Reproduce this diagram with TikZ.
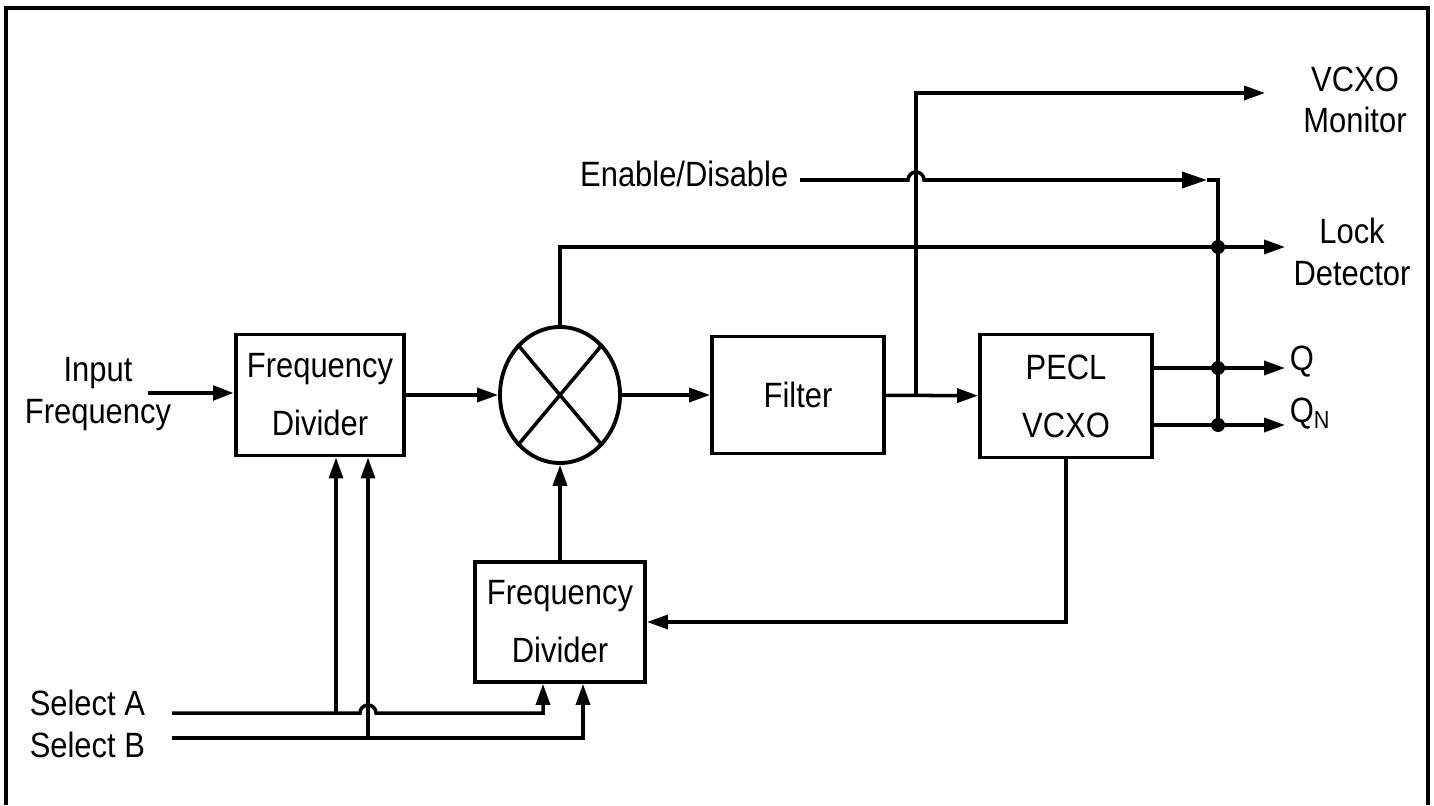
\documentclass[tikz,border=0pt]{standalone}
\usepackage{fontspec}
\setmainfont{Liberation Sans}[FakeStretch=0.88]
\usetikzlibrary{arrows.meta,positioning,calc,shapes.geometric}
\tikzset{
  blk/.style={draw,line width=1.1pt,minimum width=1.7cm,minimum height=1.2cm,align=center,inner sep=0pt,font=\fontsize{10}{16.5}\selectfont},
  lbl/.style={align=center,inner sep=0pt,font=\fontsize{10}{11.8}\selectfont},
  sig/.style={-{Triangle[length=2.1mm,width=1.4mm]}},
}

\begin{document}
\begin{tikzpicture}[x=0.1mm,y=-0.1mm,line width=1pt]
  \useasboundingbox (0,0) rectangle (1434,805);
  \draw[line width=1.1pt] (6,805) -- (6,8) -- (1428,8) -- (1428,805);
  \node[blk,minimum width=1.68cm,minimum height=1.21cm] (fdin) at (320,395) {Frequency\\Divider};
  \node[draw,ellipse,line width=1.1pt,minimum width=1.2cm,minimum height=1.36cm,inner sep=0pt] (mix) at (560,395) {};
  \draw (mix.130) -- (mix.-50) (mix.50) -- (mix.-130);
  \node[blk,minimum width=1.72cm,minimum height=1.17cm] (filt) at (798,395) {Filter};
  \node[blk,minimum width=1.72cm,minimum height=1.23cm] (pecl) at (1066,396) {PECL\\VCXO};
  \node[blk,minimum width=1.70cm,minimum height=1.20cm] (fdfb) at (560,622) {Frequency\\Divider};
  \node[lbl] (inp) at (98,394) {Input\\Frequency};
  \node[lbl,anchor=base east] (en) at (790,187) {Enable/Disable};
  \node[lbl] (mon) at (1355,100) {VCXO\\Monitor};
  \node[lbl] (lock) at (1352,252) {Lock\\Detector};
  \node[lbl,anchor=west] (q) at (1288,362) {Q};
  \node[lbl,anchor=west] (qn) at (1288,414) {Q\textsubscript{N}};
  \node[lbl,anchor=west] (selA) at (28,703) {Select A};
  \node[lbl,anchor=west] (selB) at (28,745) {Select B};
  \coordinate (inA) at (148,393);
  \coordinate (tap) at (916,395);
  \coordinate (monA) at (1265,93);
  \coordinate (lockA) at (1285,247);
  \coordinate (qA) at (1285,368);
  \coordinate (qnA) at (1285,425);
  \coordinate (busT) at (1218,180);
  \coordinate (selAs) at (172,713);
  \coordinate (selBs) at (172,738);
  \coordinate (tapA) at ($(fdin.south)+(16,0)$);
  \coordinate (tapB) at ($(fdin.south)+(48,0)$);
  \coordinate (fbA) at ($(fdfb.south)+(-17,0)$);
  \coordinate (fbB) at ($(fdfb.south)+(23,0)$);
  \draw[sig,line width=1.4pt] (inA) -- (inA -| fdin.west);
  \draw[sig] (fdin) -- (mix);
  \draw[sig] (mix) -- (filt);
  \draw[sig] (filt) -- (pecl);
  \draw[sig] (tap) |- (monA);
  \draw[sig] (mix.north) |- (lockA);
  \draw[-{Triangle[length=2.5mm,width=1.6mm]}] ($(en.east |- busT)+(10,0)$) -- ([xshift=-0.8mm]tap |- busT)
    arc[start angle=180,end angle=0,radius=0.8mm] -- ([xshift=-1.1mm]busT);
  \draw ([xshift=-1.1mm]busT) -- (busT) -- (busT |- qnA);
  \draw[sig] (qA -| pecl.east) -- (qA);
  \draw[sig] (qnA -| pecl.east) -- (qnA);
  \foreach \p in {lockA,qA,qnA}
    \fill (busT |- \p) circle (0.7mm);
  \draw[sig] (pecl.south) |- (fdfb.east);
  \draw[sig] (fdfb) -- (mix);
  \draw[sig] (selAs) -- ([xshift=-0.8mm]selAs -| tapB)
    arc[start angle=180,end angle=0,radius=0.8mm] -| (fbA);
  \draw[sig] (selAs -| tapA) -- (tapA);
  \draw[sig] (selBs) -| (fbB);
  \draw[sig] (selBs -| tapB) -- (tapB);
\end{tikzpicture}
\end{document}
